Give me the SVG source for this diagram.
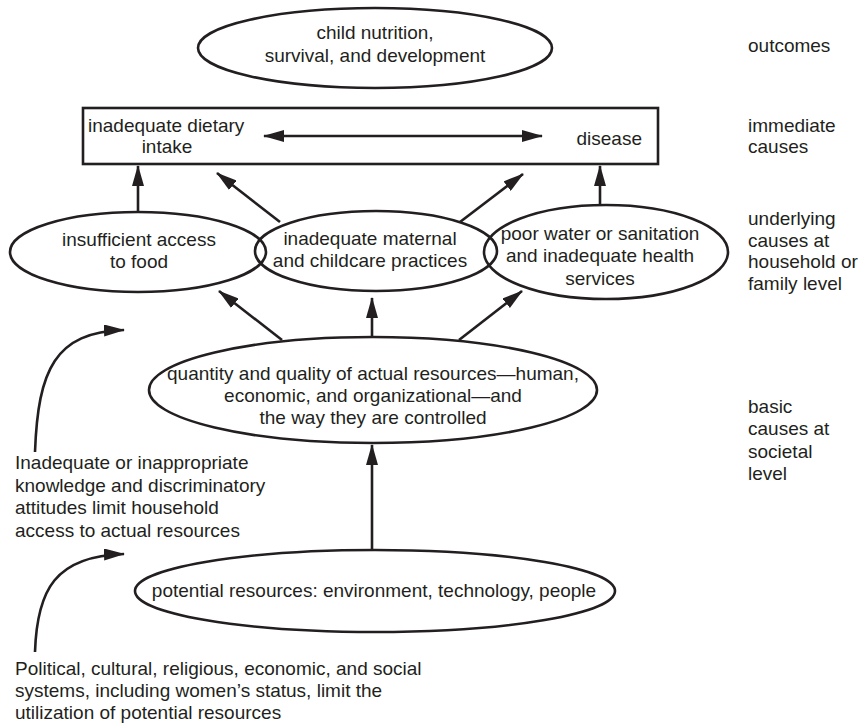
<svg xmlns="http://www.w3.org/2000/svg" width="862" height="724" viewBox="0 0 862 724">
<defs>
<style>
text{font-family:"Liberation Sans",Arial,sans-serif;font-size:19px;fill:#231f20}
.c{text-anchor:middle}
.shape{fill:none;stroke:#231f20;stroke-width:2.6}
.arr{fill:none;stroke:#231f20;stroke-width:2.6;marker-end:url(#ah)}
</style>
<marker id="ah" viewBox="0 0 21 12" refX="20" refY="6" markerWidth="21" markerHeight="12" markerUnits="userSpaceOnUse" orient="auto-start-reverse">
<path d="M0,0 L21,6 L0,12 z" fill="#231f20"/>
</marker>
</defs>
<rect width="862" height="724" fill="#fff"/>

<g id="outcome">
<ellipse class="shape" cx="375" cy="48" rx="177" ry="40"/>
<text class="c" x="375" y="39">child nutrition,</text>
<text class="c" x="375" y="62">survival, and development</text>
</g>

<g id="immediate">
<rect class="shape" x="83" y="108" width="575" height="56"/>
<text x="88" y="132">inadequate dietary</text>
<text class="c" x="167" y="153">intake</text>
<text x="642" y="145" style="text-anchor:end">disease</text>
</g>

<g id="food">
<ellipse class="shape" cx="138" cy="252" rx="128" ry="40"/>
<text class="c" x="139" y="246">insufficient access</text>
<text class="c" x="139" y="268">to food</text>
</g>

<g id="care">
<ellipse class="shape" cx="376" cy="251" rx="121" ry="40"/>
<text class="c" x="370" y="245">inadequate maternal</text>
<text class="c" x="370" y="267">and childcare practices</text>
</g>

<g id="water">
<ellipse class="shape" cx="606" cy="252" rx="122" ry="47"/>
<text class="c" x="600" y="240">poor water or sanitation</text>
<text class="c" x="600" y="262">and inadequate health</text>
<text class="c" x="600" y="285">services</text>
</g>

<g id="actual">
<ellipse class="shape" cx="373" cy="390" rx="224" ry="53"/>
<text class="c" x="373" y="380">quantity and quality of actual resources—human,</text>
<text class="c" x="373" y="402">economic, and organizational—and</text>
<text class="c" x="373" y="424">the way they are controlled</text>
</g>

<g id="potential">
<ellipse class="shape" cx="375" cy="591" rx="240" ry="41"/>
<text class="c" x="374" y="597">potential resources: environment, technology, people</text>
</g>

<g id="levels">
<text x="748" y="52">outcomes</text>
<text x="748" y="132">immediate</text>
<text x="748" y="153">causes</text>
<text x="748" y="225">underlying</text>
<text x="748" y="247">causes at</text>
<text x="748" y="268">household or</text>
<text x="748" y="290">family level</text>
<text x="748" y="413">basic</text>
<text x="748" y="435">causes at</text>
<text x="748" y="458">societal</text>
<text x="748" y="480">level</text>
</g>

<g id="notes">
<text x="15" y="469">Inadequate or inappropriate</text>
<text x="15" y="492">knowledge and discriminatory</text>
<text x="15" y="514">attitudes limit household</text>
<text x="15" y="537">access to actual resources</text>
<text x="15" y="675">Political, cultural, religious, economic, and social</text>
<text x="15" y="697">systems, including women’s status, limit the</text>
<text x="15" y="719">utilization of potential resources</text>
</g>

<g id="connectors">
<line class="arr" x1="264" y1="136" x2="542" y2="136" style="marker-start:url(#ah)"/>
<line class="arr" x1="138" y1="212" x2="138" y2="166"/>
<line class="arr" x1="280" y1="222" x2="217" y2="173"/>
<line class="arr" x1="460" y1="222" x2="523" y2="174"/>
<line class="arr" x1="600" y1="205" x2="600" y2="166"/>
<line class="arr" x1="282" y1="340" x2="219" y2="291"/>
<line class="arr" x1="372" y1="337" x2="372" y2="298"/>
<line class="arr" x1="459" y1="340" x2="522" y2="291"/>
<line class="arr" x1="372" y1="550" x2="372" y2="445"/>
<path class="arr" d="M35,452 C38,370 55,332 124,330"/>
<path class="arr" d="M35,652 C37,590 55,556 124,554"/>
</g>
</svg>
